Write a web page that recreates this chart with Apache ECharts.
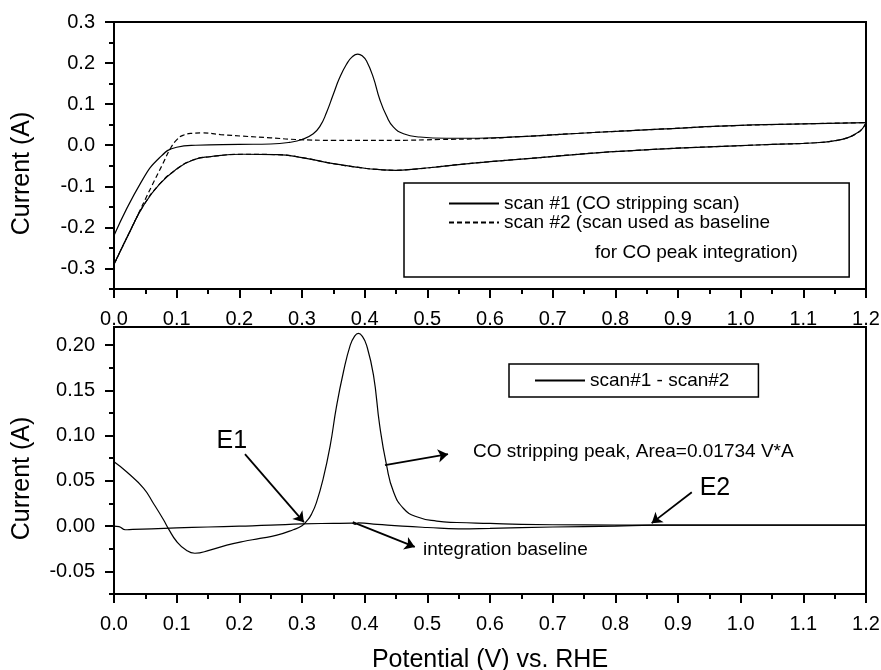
<!DOCTYPE html>
<html>
<head>
<meta charset="utf-8">
<script src="https://cdn.jsdelivr.net/npm/echarts@6/dist/echarts.min.js"></script>
<style>
  html, body { margin: 0; padding: 0; background: #fff; }
  #chart { width: 881px; height: 670px; }
</style>
</head>
<body>
<div id="chart"></div>
<script>
// top panel: CV scans, [potential V, current A]
const scan1Forward = [
  [0, -0.22], [0.044, -0.088], [0.073, -0.03], [0.1, -0.005], [0.13, 0.0], [0.2, 0.002],
  [0.25, 0.003], [0.28, 0.007], [0.3, 0.014], [0.318, 0.028], [0.329, 0.047], [0.339, 0.079],
  [0.35, 0.124], [0.36, 0.164], [0.371, 0.197], [0.38, 0.215], [0.389, 0.222], [0.396, 0.218],
  [0.403, 0.205], [0.414, 0.164], [0.424, 0.112], [0.435, 0.071], [0.446, 0.044], [0.462, 0.028],
  [0.488, 0.02], [0.53, 0.017], [0.58, 0.017], [0.65, 0.021], [0.765, 0.031], [0.87, 0.039],
  [0.978, 0.047], [1.1, 0.052], [1.2, 0.055],
];
const scan1Reverse = [
  [1.2, 0.055], [1.194, 0.04], [1.185, 0.029], [1.17, 0.018], [1.15, 0.011], [1.12, 0.006],
  [1.05, 0.002], [1.0, -0.001], [0.9, -0.007], [0.84, -0.012], [0.765, -0.019], [0.68, -0.03],
  [0.6, -0.04], [0.55, -0.047], [0.52, -0.052], [0.48, -0.058], [0.45, -0.061], [0.42, -0.059],
  [0.4, -0.056], [0.35, -0.045], [0.3, -0.03], [0.26, -0.023], [0.206, -0.022], [0.153, -0.028],
  [0.126, -0.036], [0.1, -0.058], [0.073, -0.094], [0.047, -0.147], [0.026, -0.208], [0, -0.29],
];
const scan2Forward = [
  [0, -0.29], [0.03, -0.195], [0.06, -0.1], [0.078, -0.045], [0.09, -0.008], [0.1, 0.013],
  [0.11, 0.024], [0.125, 0.029], [0.14, 0.03], [0.17, 0.026], [0.206, 0.022], [0.25, 0.018],
  [0.29, 0.014], [0.35, 0.012], [0.45, 0.012], [0.52, 0.014], [0.584, 0.016], [0.65, 0.021],
  [0.765, 0.031], [0.87, 0.039], [0.978, 0.047], [1.1, 0.052], [1.2, 0.055],
];
const scan2Reverse = scan1Reverse;

// bottom panel: difference scan#1 - scan#2
const diffForward = [
  [0, 0.071], [0.02, 0.06], [0.047, 0.042], [0.063, 0.025], [0.079, 0.007], [0.087, -0.003],
  [0.1, -0.017], [0.116, -0.027], [0.129, -0.03], [0.153, -0.0265], [0.18, -0.021],
  [0.206, -0.017], [0.233, -0.0136], [0.26, -0.01], [0.286, -0.004], [0.3, 0.0005],
  [0.308, 0.006], [0.315, 0.013], [0.323, 0.026], [0.334, 0.053], [0.345, 0.089], [0.355, 0.132],
  [0.366, 0.17], [0.377, 0.2], [0.384, 0.21], [0.39, 0.213], [0.396, 0.21], [0.403, 0.2],
  [0.414, 0.167], [0.424, 0.111], [0.435, 0.067], [0.446, 0.038], [0.462, 0.0195],
  [0.483, 0.0103], [0.515, 0.0055], [0.547, 0.004], [0.6, 0.003], [0.65, 0.002], [0.75, 0.0013],
  [0.85, 0.001], [1.0, 0.001], [1.2, 0.001],
];
const diffReverse = [
  [0, 0.0], [0.008, -0.0005], [0.018, -0.004], [0.03, -0.0035], [0.06, -0.003], [0.1, -0.002],
  [0.15, -0.001], [0.2, 0.0], [0.25, 0.001], [0.3, 0.0025], [0.35, 0.003], [0.38, 0.0032],
  [0.385, 0.002], [0.39, 0.0035], [0.42, 0.002], [0.46, 0.0], [0.5, -0.0015], [0.55, -0.003],
  [0.6, -0.0025], [0.7, -0.001], [0.8, 0.0], [0.86, 0.001], [1.0, 0.001], [1.2, 0.001],
];

// annotations on the bottom panel
const arrows = [
  [[0.209, 0.0795], [0.303, 0.0044]],   // E1
  [[0.4324, 0.0673], [0.533, 0.0795]],  // peak
  [[0.381, 0.0044], [0.48, -0.023]],    // baseline
  [[0.922, 0.0375], [0.858, 0.0033]],   // E2
];
const notes = [
  { text: "E1", at: [0.188, 0.094], size: 25, align: "center" },
  { text: "E2", at: [0.959, 0.042], size: 25, align: "center" },
  { text: "CO stripping peak, Area=0.01734 V*A", at: [0.573, 0.0817], size: 19, align: "left" },
  { text: "integration baseline", at: [0.493, -0.0265], size: 19, align: "left" },
];

// ticks
const xMajor = [0, 0.1, 0.2, 0.3, 0.4, 0.5, 0.6, 0.7, 0.8, 0.9, 1.0, 1.1, 1.2];
const xMinor = [0.05, 0.15, 0.25, 0.35, 0.45, 0.55, 0.65, 0.75, 0.85, 0.95, 1.05, 1.15];
const yTopMajor = [-0.3, -0.2, -0.1, 0, 0.1, 0.2, 0.3];
const yTopMinor = [-0.35, -0.25, -0.15, -0.05, 0.05, 0.15, 0.25];
const yBotMajor = [-0.05, 0, 0.05, 0.1, 0.15, 0.2];
const yBotMinor = [-0.075, -0.025, 0.025, 0.075, 0.125, 0.175];

const FONT = '"Liberation Sans", Arial, Helvetica, sans-serif';
const legendNames = {
  "scan #1": "scan #1 (CO stripping scan)",
  "scan #2": "scan #2 (scan used as baseline",
};

function majorX(gridIndex) {
  return {
    type: "value", gridIndex, min: 0, max: 1.2, position: "bottom",
    axisLine: { onZero: false, lineStyle: { color: "#000", width: 2 } },
    axisTick: { customValues: xMajor, length: 9, lineStyle: { color: "#000", width: 2 } },
    axisLabel: {
      customValues: xMajor, margin: 20, color: "#000", fontSize: 20, fontFamily: FONT,
      formatter: (v) => v.toFixed(1),
    },
    splitLine: { show: false },
  };
}
function minorX(gridIndex) {
  return {
    type: "value", gridIndex, min: 0, max: 1.2, position: "bottom",
    axisLine: { show: false, onZero: false },
    axisTick: { customValues: xMinor, length: 5, lineStyle: { color: "#000", width: 2 } },
    axisLabel: { show: false },
    splitLine: { show: false },
  };
}
function majorY(gridIndex, min, max, ticks, digits) {
  return {
    type: "value", gridIndex, min, max, position: "left",
    name: "Current (A)", nameLocation: "middle", nameGap: 79,
    nameTextStyle: { fontSize: 25, fontFamily: FONT, color: "#000", padding: [0, 36, 0, 0] },
    axisLine: { onZero: false, lineStyle: { color: "#000", width: 2 } },
    axisTick: { customValues: ticks, length: 9, lineStyle: { color: "#000", width: 2 } },
    axisLabel: {
      customValues: ticks, margin: 19, color: "#000", fontSize: 20, fontFamily: FONT,
      formatter: (v) => v.toFixed(digits),
    },
    splitLine: { show: false },
  };
}
function minorY(gridIndex, min, max, ticks) {
  return {
    type: "value", gridIndex, min, max, position: "left",
    axisLine: { show: false, onZero: false },
    axisTick: { customValues: ticks, length: 5, lineStyle: { color: "#000", width: 2 } },
    axisLabel: { show: false },
    splitLine: { show: false },
  };
}

const thin = { color: "#000", width: 1.2 };
const dashed = { color: "#000", width: 1.2, type: [5, 3] };

function curve(name, xi, yi, data, style) {
  return {
    name, type: "line", xAxisIndex: xi, yAxisIndex: yi, data,
    showSymbol: false, symbol: "none", smooth: 0.5, lineStyle: style,
    itemStyle: { color: "#000" },
  };
}

const diffMain = curve("scan#1 - scan#2", 2, 2, diffForward, thin);
diffMain.markLine = {
  silent: true, symbol: ["none", "arrow"], symbolSize: [10, 10],
  lineStyle: { color: "#000", width: 1.8, type: "solid" },
  label: { show: false },
  data: arrows.map(([a, b]) => [{ coord: a }, { coord: b }]),
};
diffMain.markPoint = {
  silent: true, symbol: "circle", symbolSize: 1,
  itemStyle: { color: "rgba(0,0,0,0)" },
  data: notes.map((n) => ({
    coord: n.at,
    label: {
      show: true, position: "inside", formatter: n.text, align: n.align,
      verticalAlign: "middle", fontSize: n.size, fontFamily: FONT, color: "#000",
    },
  })),
};

const option = {
  animation: false,
  backgroundColor: "#fff",
  textStyle: { fontFamily: FONT, color: "#000" },
  grid: [
    { left: 114, top: 22, width: 752, height: 267, show: true, borderColor: "#000", borderWidth: 2,
      outerBoundsMode: "none", containLabel: false },
    { left: 114, top: 327, width: 752, height: 267, show: true, borderColor: "#000", borderWidth: 2,
      outerBoundsMode: "none", containLabel: false },
  ],
  xAxis: [
    majorX(0), minorX(0),
    Object.assign(majorX(1), {
      name: "Potential (V) vs. RHE", nameLocation: "middle", nameGap: 54,
      nameTextStyle: { fontSize: 25, fontFamily: FONT, color: "#000" },
    }),
    minorX(1),
  ],
  yAxis: [
    majorY(0, -0.35, 0.3, yTopMajor, 1), minorY(0, -0.35, 0.3, yTopMinor),
    majorY(1, -0.075, 0.22, yBotMajor, 2), minorY(1, -0.075, 0.22, yBotMinor),
  ],
  legend: [
    {
      data: ["scan #1", "scan #2"],
      formatter: (name) => legendNames[name],
      orient: "vertical", left: 404, top: 183,
      padding: [11, 79, 45, 44], itemGap: 0, itemWidth: 50, itemHeight: 14,
      itemStyle: { opacity: 0 },
      borderColor: "#000", borderWidth: 1.5, borderRadius: 0,
      textStyle: { fontSize: 19, lineHeight: 17, fontFamily: FONT, color: "#000" },
      selectedMode: false,
    },
    {
      data: ["scan#1 - scan#2"],
      left: 509, top: 364,
      padding: [7, 29, 7, 25], itemWidth: 50, itemHeight: 14,
      itemStyle: { opacity: 0 },
      borderColor: "#000", borderWidth: 1.5, borderRadius: 0,
      textStyle: { fontSize: 19, fontFamily: FONT, color: "#000" },
      selectedMode: false,
    },
  ],
  graphic: [
    {
      type: "text", left: 595, top: 243,
      style: { text: "for CO peak integration)", fontSize: 19, fontFamily: FONT, fill: "#000" },
    },
  ],
  series: [
    curve("scan #1", 0, 0, scan1Forward, thin),
    curve("scan #1", 0, 0, scan1Reverse, thin),
    curve("scan #2", 0, 0, scan2Forward, dashed),
    curve("scan #2", 0, 0, scan2Reverse, dashed),
    diffMain,
    curve("scan#1 - scan#2", 2, 2, diffReverse, thin),
  ],
};

const chart = echarts.init(document.querySelector("#chart"), null, { renderer: "canvas" });
chart.setOption(option);
</script>
</body>
</html>
